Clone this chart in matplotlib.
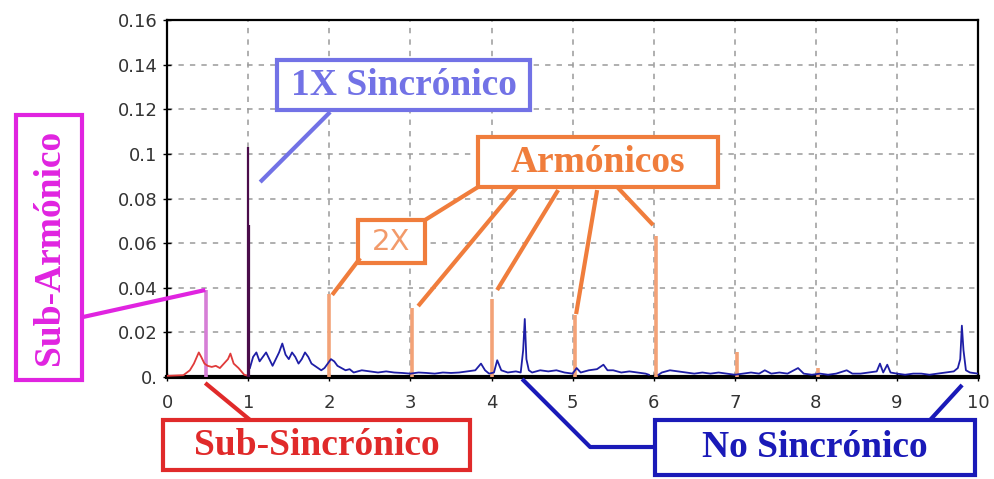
import numpy as np
import matplotlib
matplotlib.use("Agg")
import matplotlib.pyplot as plt
from matplotlib.patches import Rectangle

# --- data (x in orders of running speed, y amplitude) ---
red_x = [0.0, 0.2, 0.28, 0.33, 0.39, 0.42, 0.46, 0.5, 0.55, 0.6, 0.65, 0.7, 0.75, 0.78, 0.82, 0.88, 0.95, 1.0]
red_y = [0.0005, 0.0008, 0.003, 0.006, 0.011, 0.009, 0.006, 0.005, 0.0045, 0.005, 0.004, 0.006, 0.008, 0.0105, 0.006, 0.004, 0.001, 0.0005]

blue_x = [1.02, 1.06, 1.10, 1.14, 1.18, 1.22, 1.26, 1.30, 1.34, 1.38, 1.42, 1.46, 1.50, 1.54, 1.58, 1.62, 1.66,
          1.70, 1.74, 1.78, 1.82, 1.86, 1.90, 1.94, 1.98, 2.02, 2.06, 2.10, 2.15, 2.2, 2.25, 2.3, 2.4, 2.5, 2.6,
          2.7, 2.8, 2.9, 3.0, 3.1, 3.2, 3.3, 3.4, 3.5, 3.6, 3.7, 3.8, 3.87, 3.92, 3.97, 4.03, 4.07, 4.12, 4.2,
          4.3, 4.36, 4.39, 4.41, 4.43, 4.46, 4.5, 4.6, 4.7, 4.8, 4.9, 5.0, 5.05, 5.1, 5.2, 5.3, 5.38, 5.43, 5.5,
          5.6, 5.7, 5.8, 5.9, 5.94, 6.0, 6.06, 6.1, 6.2, 6.3, 6.4, 6.5, 6.6, 6.7, 6.8, 6.9, 7.0, 7.1, 7.2, 7.3,
          7.37, 7.45, 7.55, 7.65, 7.78, 7.85, 7.95, 8.05, 8.15, 8.25, 8.38, 8.45, 8.55, 8.65, 8.75, 8.79, 8.83,
          8.88, 8.92, 9.0, 9.1, 9.2, 9.3, 9.4, 9.5, 9.6, 9.7, 9.75, 9.78, 9.80, 9.82, 9.85, 9.9, 10.0]
blue_y = [0.004, 0.009, 0.011, 0.007, 0.009, 0.011, 0.008, 0.005, 0.008, 0.011, 0.015, 0.010, 0.008, 0.011, 0.009,
          0.006, 0.008, 0.011, 0.009, 0.006, 0.005, 0.004, 0.003, 0.004, 0.006, 0.008, 0.007, 0.005, 0.004, 0.003,
          0.0035, 0.002, 0.003, 0.0025, 0.002, 0.0025, 0.002, 0.0018, 0.0015, 0.002, 0.0018, 0.0015, 0.002, 0.0018,
          0.002, 0.0025, 0.003, 0.006, 0.003, 0.0015, 0.002, 0.0075, 0.003, 0.002, 0.0025, 0.002, 0.012, 0.026,
          0.008, 0.003, 0.002, 0.003, 0.0025, 0.003, 0.002, 0.0015, 0.004, 0.002, 0.003, 0.0035, 0.0055, 0.003,
          0.003, 0.002, 0.0025, 0.002, 0.0015, 0.001, np.nan, 0.001, 0.002, 0.003, 0.0025, 0.002, 0.0015, 0.002,
          0.0015, 0.002, 0.0015, 0.001, 0.0015, 0.002, 0.0015, 0.003, 0.0015, 0.002, 0.0015, 0.004, 0.0015, 0.001,
          0.0015, 0.001, 0.0015, 0.003, 0.0015, 0.0015, 0.002, 0.0025, 0.006, 0.002, 0.0055, 0.002, 0.0015, 0.001,
          0.0015, 0.0015, 0.001, 0.0015, 0.002, 0.0025, 0.004, 0.008, 0.023, 0.012, 0.003, 0.002, 0.0015]

sub_harm_x = [0.48]
sub_harm_y = [0.039]

sync_x = [0.995, 1.005]          # 1X
sync_y = [0.103, 0.068]

harm_x = [2.0, 3.02, 4.0, 5.03, 6.03, 7.03, 8.03]
harm_y = [0.037, 0.031, 0.035, 0.028, 0.063, 0.011, 0.004]

yticks = [0, 0.02, 0.04, 0.06, 0.08, 0.1, 0.12, 0.14, 0.16]
ylabels = ['0.', '0.02', '0.04', '0.06', '0.08', '0.1', '0.12', '0.14', '0.16']
xticks = list(range(0, 11))

fig = plt.figure(figsize=(9.95, 4.79), dpi=100)
ax = fig.add_axes([0.168, 0.213, 0.815, 0.745])

ax.grid(True, color='#9a9a9a', linestyle=(0, (3.5, 4)), linewidth=1.1)
ax.set_axisbelow(True)

ax.vlines(harm_x, 0, harm_y, color='#f3a277', linewidth=2.6, zorder=3)
ax.vlines(sub_harm_x, 0, sub_harm_y, color='#d67ed6', linewidth=2.6, zorder=3)
ax.plot(red_x, red_y, color='#e03a3a', linewidth=1.3, zorder=4)
ax.plot(blue_x, blue_y, color='#1e1ea6', linewidth=1.3, zorder=4)
ax.vlines(sync_x, 0, sync_y, color='#4a0c4a', linewidth=1.6, zorder=5)

ax.set_xlim(0, 10)
ax.set_ylim(0, 0.16)
ax.set_xticks(xticks)
ax.set_yticks(yticks)
ax.set_yticklabels(ylabels)
ax.tick_params(direction='inout', length=6, width=1, labelsize=13, labelcolor='#333333', pad=4)
ax.tick_params(axis='x', pad=9)
for s in ['top', 'left', 'right']:
    ax.spines[s].set_linewidth(1.6)
ax.spines['bottom'].set_linewidth(3)

serif = dict(family='Liberation Serif', weight='bold', fontsize=27, ha='center', va='center')


def box(x0, x1, y0, y1, col, lw=3):
    ax.add_patch(Rectangle((x0, y0), x1 - x0, y1 - y0, fill=True, facecolor='white',
                           edgecolor=col, linewidth=lw, clip_on=False, zorder=6))


def leader(xs, ys, col, lw=3):
    ax.plot(xs, ys, color=col, linewidth=lw, clip_on=False, zorder=6, solid_capstyle='butt')


# 1X Sincronico
c1 = '#7272e6'
box(1.356, 4.476, 0.1197, 0.1421, c1)
ax.text(2.916, 0.1305, '1X Sincrónico', color=c1, zorder=7, **serif)
leader([1.147, 2.01], [0.0874, 0.1188], c1)

# Armonicos
c2 = '#f07d3c'
box(3.835, 6.795, 0.0852, 0.1076, c2)
ax.text(5.314, 0.0960, 'Armónicos', color=c2, zorder=7, **serif)
box(2.355, 3.181, 0.0511, 0.0704, c2)
ax.text(2.768, 0.0605, '2X', color='#f29a6a', fontsize=21, ha='center', va='center', zorder=7)
leader([3.835, 3.181], [0.0852, 0.0704], c2)
leader([2.38, 2.035], [0.0533, 0.0368], c2)
leader([4.316, 3.095], [0.0852, 0.0318], c2)
leader([4.821, 4.069], [0.0838, 0.039], c2)
leader([5.302, 5.043], [0.0838, 0.0282], c2)
leader([5.549, 5.993], [0.0852, 0.0681], c2)

# Sub-Armonico
c3 = '#e024e0'
box(-1.862, -1.048, -0.0013, 0.1174, c3)
ax.text(-1.455, 0.058, 'Sub-Armónico', color=c3, rotation=90, zorder=7, **serif)
leader([-1.036, 0.47], [0.0269, 0.039], c3)

# Sub-Sincronico
c4 = '#e02a2a'
box(-0.049, 3.736, -0.0417, -0.0193, c4)
ax.text(1.843, -0.0307, 'Sub-Sincrónico', color=c4, zorder=7, **serif)
leader([0.469, 1.023], [-0.0027, -0.0193], c4)

# No Sincronico
c5 = '#1a1ab8'
box(6.017, 9.963, -0.0439, -0.0193, c5)
ax.text(7.99, -0.0318, 'No Sincrónico', color=c5, zorder=7, **serif)
leader([4.377, 5.216, 6.017], [-0.0009, -0.0314, -0.0314], c5)
leader([9.803, 9.408], [-0.0036, -0.0193], c5)

fig.savefig('out.png', dpi=100)
